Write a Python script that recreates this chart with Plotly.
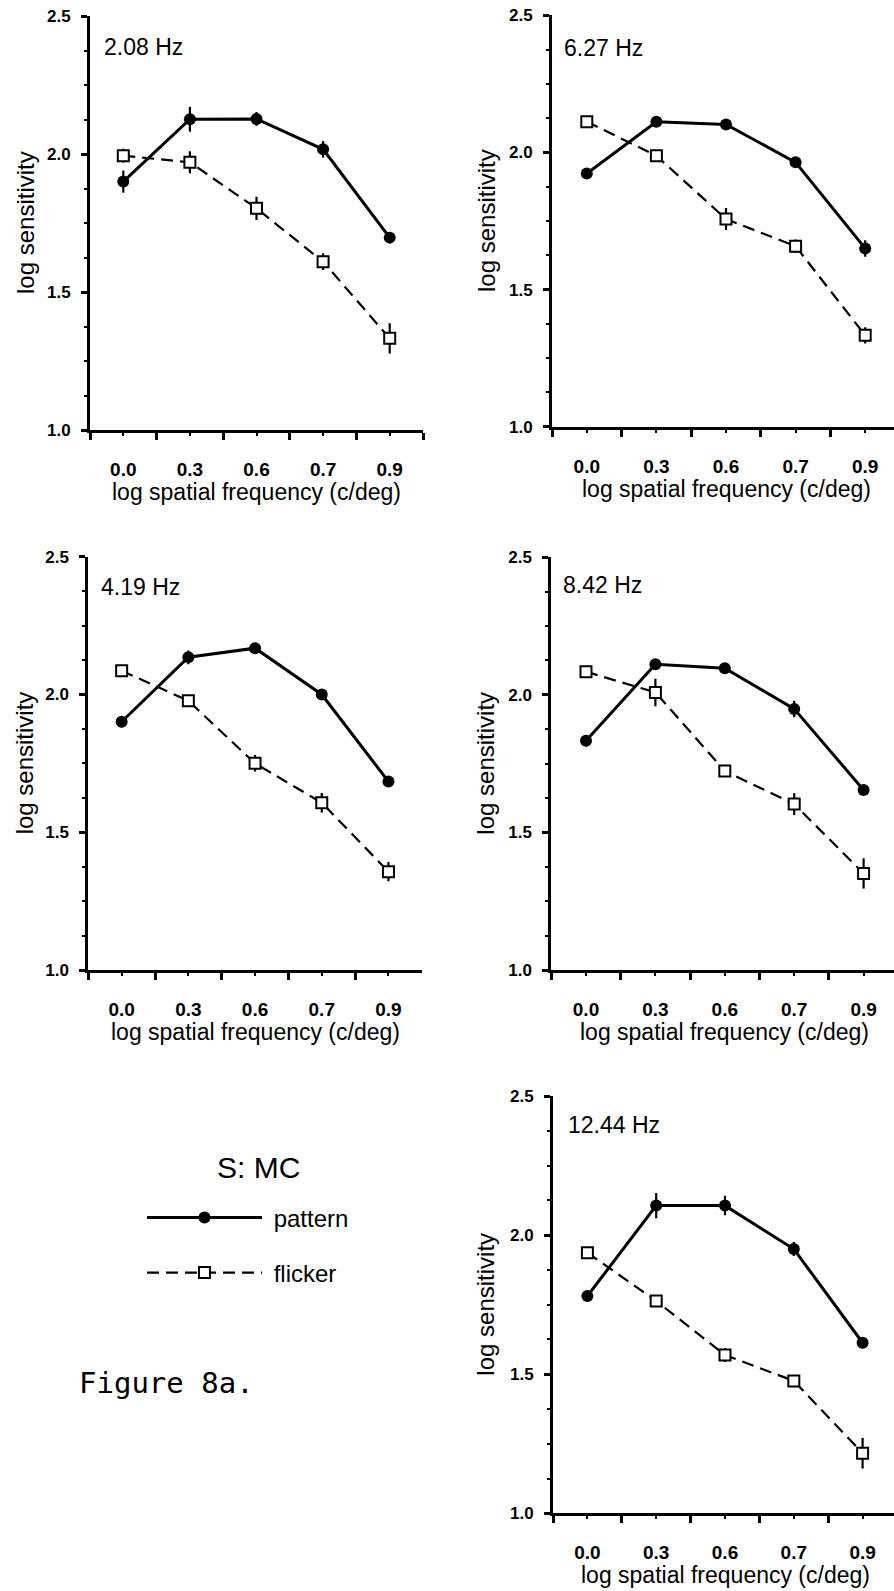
import plotly.graph_objects as go

W, H = 894, 1591

categories = ["0.0", "0.3", "0.6", "0.7", "0.9"]
freq_labels = ["2.08 Hz", "6.27 Hz", "4.19 Hz", "8.42 Hz", "12.44 Hz"]

pattern_208 = [1.900, 2.126, 2.127, 2.017, 1.697]
pattern_208_err = [0.040, 0.045, 0.025, 0.030, 0.020]
flicker_208 = [1.994, 1.970, 1.803, 1.610, 1.332]
flicker_208_err = [0.025, 0.040, 0.042, 0.030, 0.055]

pattern_627 = [1.923, 2.112, 2.102, 1.964, 1.650]
pattern_627_err = [0.020, 0.010, 0.020, 0.015, 0.030]
flicker_627 = [2.112, 1.988, 1.757, 1.658, 1.333]
flicker_627_err = [0.010, 0.020, 0.040, 0.025, 0.030]

pattern_419 = [1.901, 2.135, 2.168, 2.000, 1.684]
pattern_419_err = [0.020, 0.025, 0.020, 0.010, 0.010]
flicker_419 = [2.086, 1.977, 1.750, 1.607, 1.357]
flicker_419_err = [0.015, 0.020, 0.030, 0.035, 0.035]

pattern_842 = [1.833, 2.111, 2.097, 1.949, 1.654]
pattern_842_err = [0.020, 0.015, 0.010, 0.030, 0.015]
flicker_842 = [2.084, 2.009, 1.723, 1.603, 1.351]
flicker_842_err = [0.010, 0.050, 0.020, 0.040, 0.055]

pattern_1244 = [1.781, 2.106, 2.106, 1.950, 1.613]
pattern_1244_err = [0.020, 0.045, 0.035, 0.025, 0.020]
flicker_1244 = [1.937, 1.763, 1.569, 1.476, 1.216]
flicker_1244_err = [0.020, 0.010, 0.025, 0.010, 0.055]

y_tickvals = [1.0, 1.5, 2.0, 2.5]
y_ticktext = ["1.0", "1.5", "2.0", "2.5"]

series = [
    (pattern_208, pattern_208_err, flicker_208, flicker_208_err),
    (pattern_627, pattern_627_err, flicker_627, flicker_627_err),
    (pattern_419, pattern_419_err, flicker_419, flicker_419_err),
    (pattern_842, pattern_842_err, flicker_842, flicker_842_err),
    (pattern_1244, pattern_1244_err, flicker_1244, flicker_1244_err),
]

# panel geometry in pixels: (axis left, axis right, top(2.5), bottom(1.0), category spacing)
panels = [
    (90.0, 423.0, 16.0, 430.0, 66.6),
    (552.0, 894.0, 15.3, 426.7, 69.6),
    (88.3, 421.7, 556.7, 970.0, 66.7),
    (551.3, 894.0, 557.3, 970.0, 69.4),
    (553.0, 894.0, 1096.0, 1513.3, 68.8),
]
ytitle_x = [25, 486, 24, 486, 486]
hz_pos = [(101.7, 46.7), (562, 48.3), (99.3, 586.7), (561.3, 585), (566, 1125)]

FONT = "Liberation Sans, Arial, sans-serif"
fig = go.Figure()
layout = dict(
    width=W, height=H, margin=dict(l=0, r=0, t=0, b=0, pad=0, autoexpand=False),
    paper_bgcolor="white", plot_bgcolor="white", annotations=[],
)

xcat = list(range(len(categories)))
for i, (pv, pe, fv, fe) in enumerate(series):
    k = "" if i == 0 else str(i + 1)
    left, right, top, bottom, sp = panels[i]
    xend = -0.5 + (right - left) / sp
    fig.add_trace(go.Scatter(
        x=xcat, y=fv, xaxis="x" + k, yaxis="y" + k, mode="lines+markers",
        name="\u00a0flicker", legend="legend2", showlegend=(i == 0),
        line=dict(color="black", width=2.2, dash="12px,7px"),
        marker=dict(symbol="square", size=11, color="white", line=dict(color="black", width=2)),
        error_y=dict(type="data", array=fe, color="black", thickness=2.2, width=0),
    ))
    fig.add_trace(go.Scatter(
        x=xcat, y=pv, xaxis="x" + k, yaxis="y" + k, mode="lines+markers",
        name="\u00a0pattern", legend="legend", showlegend=(i == 0),
        line=dict(color="black", width=3),
        marker=dict(symbol="circle", size=12, color="black"),
        error_y=dict(type="data", array=pe, color="black", thickness=2.2, width=0),
    ))
    layout["xaxis" + k] = dict(
        domain=[left / W, right / W], anchor="y" + k, range=[-0.5, xend],
        showline=True, linecolor="black", linewidth=3, showgrid=False, zeroline=False,
        automargin=False,
        tickmode="array", tickvals=xcat, ticktext=categories, ticks="outside",
        ticklen=3, tickwidth=2, tickcolor="black", ticklabelstandoff=17,
        tickfont=dict(family=FONT, size=19, color="black", weight="bold"),
        minor=dict(tickmode="array", tickvals=[j - 0.5 for j in range(len(categories) + 1)],
                   ticks="outside", ticklen=7, tickwidth=2.5, tickcolor="black"),
    )
    layout["yaxis" + k] = dict(
        domain=[1 - bottom / H, 1 - top / H], anchor="x" + k, range=[1.0, 2.5],
        showline=True, linecolor="black", linewidth=3, showgrid=False, zeroline=False,
        automargin=False,
        tickmode="array", tickvals=y_tickvals, ticktext=y_ticktext, ticks="outside",
        ticklen=6, tickwidth=2.5, tickcolor="black", ticklabelstandoff=7,
        tickfont=dict(family=FONT, size=17, color="black", weight="bold"),
        minor=dict(dtick=0.125, ticks="outside", ticklen=3, tickwidth=1.5, tickcolor="black"),
    )
    hx, hy = hz_pos[i]
    layout["annotations"].append(dict(
        text=freq_labels[i], xref="paper", yref="paper", x=hx / W, y=1 - hy / H,
        xanchor="left", yanchor="middle", showarrow=False,
        font=dict(family=FONT, size=23, color="black"),
    ))
    layout["annotations"].append(dict(
        text="log sensitivity", xref="paper", yref="y" + k + " domain",
        x=ytitle_x[i] / W, y=0.5, xanchor="center", yanchor="middle", textangle=-90,
        showarrow=False, font=dict(family=FONT, size=24, color="black"),
    ))
    layout["annotations"].append(dict(
        text="log spatial frequency (c/deg)", xref="x" + k, yref="paper",
        x=2, y=1 - (bottom + 62) / H, xanchor="center", yanchor="middle",
        showarrow=False, font=dict(family=FONT, size=23, color="black"),
    ))

layout["annotations"].append(dict(
    text="S: MC", xref="paper", yref="paper", x=258 / W, y=1 - 1167 / H,
    xanchor="center", yanchor="middle", showarrow=False,
    font=dict(family=FONT, size=30, color="black"),
))
layout["annotations"].append(dict(
    text="Figure 8a.", xref="paper", yref="paper", x=77 / W, y=1 - 1383 / H,
    xanchor="left", yanchor="middle", showarrow=False,
    font=dict(family="DejaVu Sans Mono, monospace", size=29, color="black"),
))
leg_common = dict(xanchor="left", yanchor="middle", bgcolor="rgba(0,0,0,0)",
                  borderwidth=0, itemwidth=115,
                  font=dict(family=FONT, size=24, color="black"))
layout["legend"] = dict(x=142 / W, y=1 - 1218 / H, **leg_common)
layout["legend2"] = dict(x=142 / W, y=1 - 1273 / H, **leg_common)

fig.update_layout(**layout)
fig.write_html(
    "out.html",
    config={"displayModeBar": False},
    post_script="document.body.style.margin='0';document.body.style.overflow='hidden';",
)
